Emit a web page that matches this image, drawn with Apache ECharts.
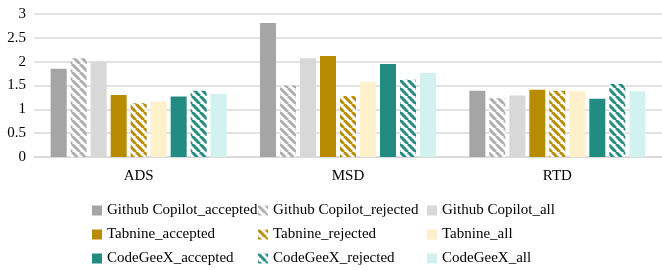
<!DOCTYPE html>
<html>
<head>
<meta charset="utf-8">
<script src="https://cdn.jsdelivr.net/npm/echarts@6/dist/echarts.min.js"></script>
<style>
  html, body { margin: 0; padding: 0; background: #fff; }
  #chart { width: 662px; height: 270px; }
</style>
</head>
<body>
<div id="chart"></div>
<script>
// data
var categories = ['ADS', 'MSD', 'RTD'];
var yTicks = [0, 0.5, 1, 1.5, 2, 2.5, 3];

var copilotAccepted = [1.85, 2.81, 1.39];
var copilotRejected = [2.07, 1.50, 1.23];
var copilotAll      = [2.00, 2.07, 1.29];
var tabnineAccepted = [1.30, 2.12, 1.41];
var tabnineRejected = [1.13, 1.28, 1.39];
var tabnineAll      = [1.16, 1.58, 1.38];
var geexAccepted    = [1.27, 1.95, 1.22];
var geexRejected    = [1.39, 1.62, 1.53];
var geexAll         = [1.32, 1.76, 1.38];

var FONT = 'Liberation Serif';

// diagonal hatch fill for the "rejected" bars
function hatch(color) {
    var c = document.createElement('canvas');
    c.width = 8;
    c.height = 8;
    var ctx = c.getContext('2d');
    ctx.fillStyle = '#ffffff';
    ctx.fillRect(0, 0, 8, 8);
    ctx.strokeStyle = color;
    ctx.lineWidth = 3;
    [-8, 0, 8].forEach(function (o) {
        ctx.beginPath();
        ctx.moveTo(o, 0);
        ctx.lineTo(o + 8, 8);
        ctx.stroke();
    });
    return { image: c, repeat: 'repeat' };
}

function bar(name, data, color) {
    return {
        name: name,
        type: 'bar',
        data: data,
        barWidth: 16,
        barGap: '25%',
        itemStyle: { color: color },
        emphasis: { disabled: true }
    };
}

var series = [
    bar('Github Copilot_accepted', copilotAccepted, '#a5a5a5'),
    bar('Github Copilot_rejected', copilotRejected, hatch('#adadad')),
    bar('Github Copilot_all', copilotAll, '#d8d8d8'),
    bar('Tabnine_accepted', tabnineAccepted, '#b88c00'),
    bar('Tabnine_rejected', tabnineRejected, hatch('#b88c00')),
    bar('Tabnine_all', tabnineAll, '#fff0cc'),
    bar('CodeGeeX_accepted', geexAccepted, '#228c82'),
    bar('CodeGeeX_rejected', geexRejected, hatch('#228c82')),
    bar('CodeGeeX_all', geexAll, '#d2f2ef')
];

function legendCol(left, names) {
    return {
        orient: 'vertical',
        left: left,
        top: 203,
        height: 67,
        padding: 0,
        itemWidth: 10,
        itemHeight: 10,
        itemGap: 9,
        icon: 'rect',
        selectedMode: false,
        data: names,
        textStyle: { fontFamily: FONT, fontSize: 15, color: '#000', lineHeight: 15 }
    };
}

var myChart = echarts.init(document.getElementById('chart'));
var option = {
    animation: false,
    grid: { left: 34, right: -2, top: 14, bottom: 113 },
    legend: [
        legendCol(92, ['Github Copilot_accepted', 'Tabnine_accepted', 'CodeGeeX_accepted']),
        legendCol(258, ['Github Copilot_rejected', 'Tabnine_rejected', 'CodeGeeX_rejected']),
        legendCol(427, ['Github Copilot_all', 'Tabnine_all', 'CodeGeeX_all'])
    ],
    xAxis: {
        type: 'category',
        data: categories,
        axisTick: { show: false },
        axisLine: { lineStyle: { color: '#d9d9d9', width: 1.5 } },
        axisLabel: { fontFamily: FONT, fontSize: 15, color: '#000', margin: 12 }
    },
    yAxis: {
        type: 'value',
        min: yTicks[0],
        max: yTicks[yTicks.length - 1],
        interval: 0.5,
        axisLine: { show: false },
        axisTick: { show: false },
        splitLine: { lineStyle: { color: '#d9d9d9', width: 1.5 } },
        axisLabel: { fontFamily: FONT, fontSize: 15, color: '#000', margin: 8 }
    },
    series: series
};
myChart.setOption(option);
</script>
</body>
</html>
